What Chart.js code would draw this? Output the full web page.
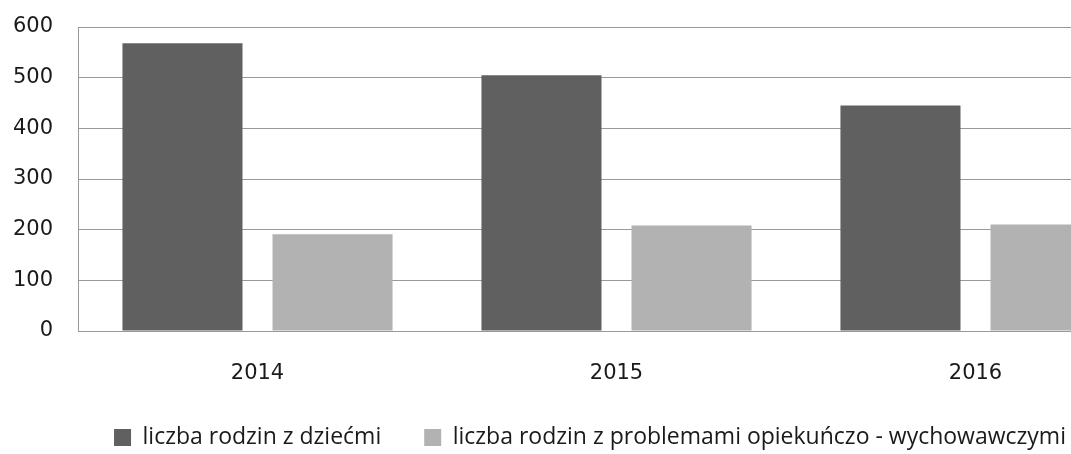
<!DOCTYPE html>
<html lang="pl">
<head>
    <meta charset="UTF-8">
    <title>Liczba rodzin</title>
    <script src="https://cdn.jsdelivr.net/npm/chart.js"></script>
    <style>
        html, body {
            margin: 0;
            padding: 0;
            background: #ffffff;
            overflow: hidden;
        }
        .chart-container {
            width: 1155px;
            height: 460px;
        }
    </style>
</head>
<body>
    <div class="chart-container">
        <canvas id="familyChart" width="1155" height="460"></canvas>
    </div>

    <script>
        const years = ["2014", "2015", "2016"];
        const familiesWithChildren = [568, 505, 445];
        const familiesWithProblems = [191, 208, 210];
        const yTicks = [0, 100, 200, 300, 400, 500, 600];

        const tickFont = { family: "'DejaVu Sans', sans-serif", size: 21 };
        const legendFont = { family: "'Open Sans', sans-serif", size: 23 };

        // canvas is wider than the window on purpose: the last bar gets cut at the right edge
        const ctx = document.getElementById('familyChart').getContext('2d');
        new Chart(ctx, {
            type: 'bar',
            data: {
                labels: years,
                datasets: [
                    {
                        label: 'liczba rodzin z dziećmi',
                        data: familiesWithChildren,
                        backgroundColor: '#606060'
                    },
                    {
                        label: 'liczba rodzin z problemami opiekuńczo - wychowawczymi',
                        data: familiesWithProblems,
                        backgroundColor: '#b2b2b2'
                    }
                ]
            },
            options: {
                responsive: false,
                animation: false,
                devicePixelRatio: 1,
                categoryPercentage: 0.836,
                barPercentage: 0.8,
                layout: {
                    padding: { top: 27, left: 25, right: 0, bottom: 1 }
                },
                plugins: {
                    tooltip: { enabled: false },
                    legend: {
                        position: 'bottom',
                        labels: {
                            boxWidth: 17,
                            boxHeight: 17,
                            padding: 43,
                            color: '#1a1a1a',
                            font: legendFont
                        }
                    }
                },
                scales: {
                    x: {
                        grid: { display: false, drawTicks: false },
                        border: { color: '#999999', width: 1 },
                        ticks: { color: '#1a1a1a', font: tickFont, padding: 30 },
                        afterFit: (scale) => { scale.height = 52; }
                    },
                    y: {
                        min: 0,
                        max: 600,
                        afterBuildTicks: (scale) => {
                            scale.ticks = yTicks.map(v => ({ value: v }));
                        },
                        grid: { color: '#999999', lineWidth: 1, drawTicks: false },
                        border: { color: '#999999', width: 1 },
                        // mirrored + negative padding so the labels sit left of the axis without being clipped
                        ticks: { color: '#1a1a1a', font: tickFont, mirror: true, crossAlign: 'far', padding: -65 },
                        afterFit: (scale) => { scale.width = 53; }
                    }
                }
            }
        });
    </script>
</body>
</html>
